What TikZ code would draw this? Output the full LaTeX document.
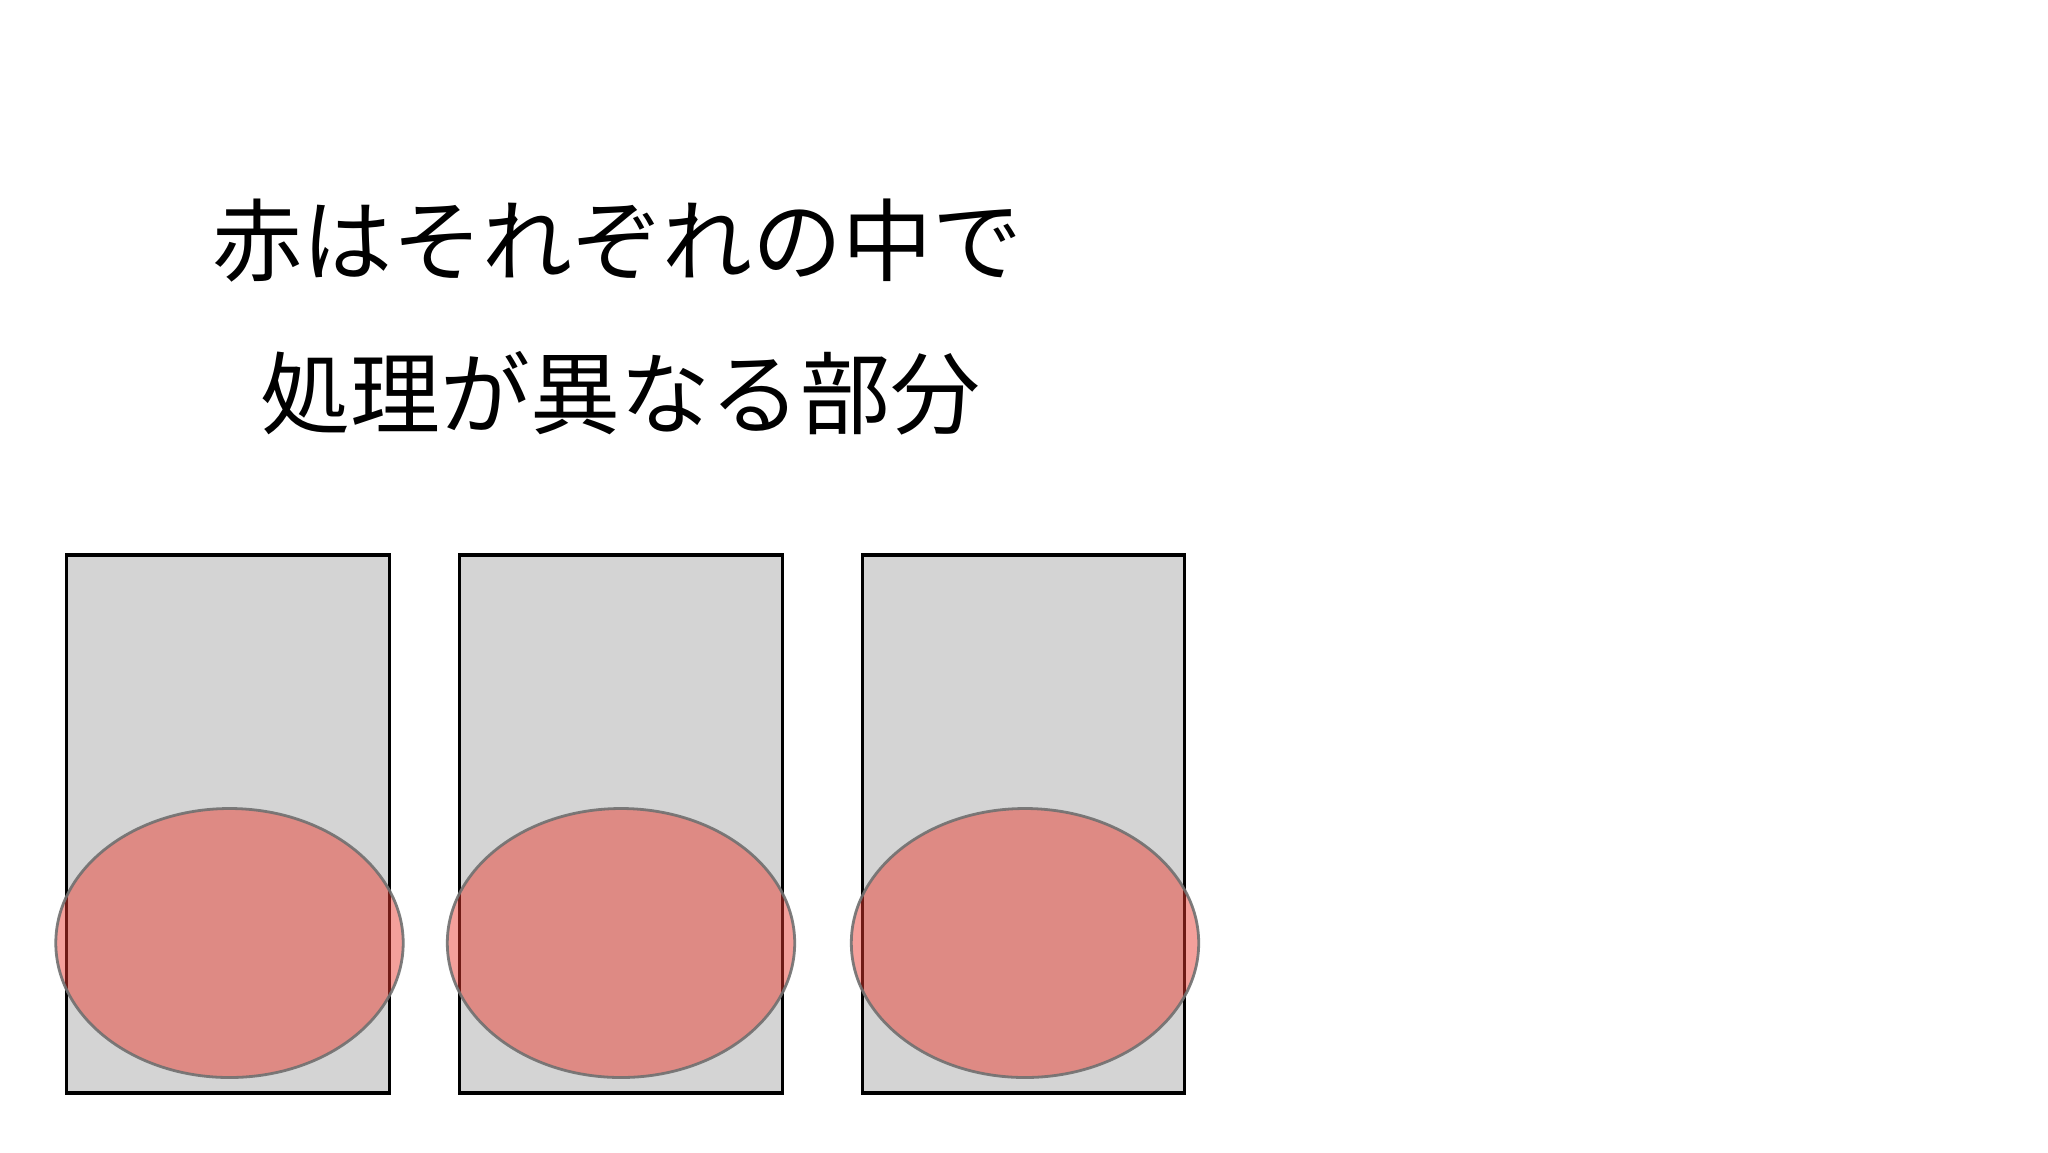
\documentclass[tikz,border=0pt]{standalone}
\usepackage{fontspec}
\newfontfamily\jpfont{Noto Sans CJK JP}
\usetikzlibrary{shapes.geometric}
\definecolor{boxgray}{RGB}{212,212,212}
\definecolor{redfill}{RGB}{234,58,46}
\definecolor{edgegray}{RGB}{112,112,112}
\begin{document}
\begin{tikzpicture}[x=0.5pt,y=-0.5pt,
  panel/.style={draw=black,line width=1.6pt,fill=boxgray,minimum width=161.3pt,minimum height=269pt,inner sep=0pt},
  blob/.style={ellipse,draw=edgegray,line width=1.4pt,fill=redfill,fill opacity=0.48,draw opacity=0.9,minimum width=173.7pt,minimum height=134.5pt,inner sep=0pt},
  title/.style={anchor=base,inner sep=0pt,font=\jpfont\fontsize{45pt}{54pt}\selectfont}]
\useasboundingbox (0,0) rectangle (2048,1152);
\fill[white] (0,0) rectangle (2048,1152);
\node[title] (t1) at (617,274) {赤はそれぞれの中で};
\node[title] (t2) at (620,427) {処理が異なる部分};
\node[panel] (p1) at (228,824) {};
\node[panel] (p2) at (621,824) {};
\node[panel] (p3) at (1023.5,824) {};
\node[blob] (e1) at (229.5,943) {};
\node[blob] (e2) at (621,943) {};
\node[blob] (e3) at (1025,943) {};
\end{tikzpicture}
\end{document}
